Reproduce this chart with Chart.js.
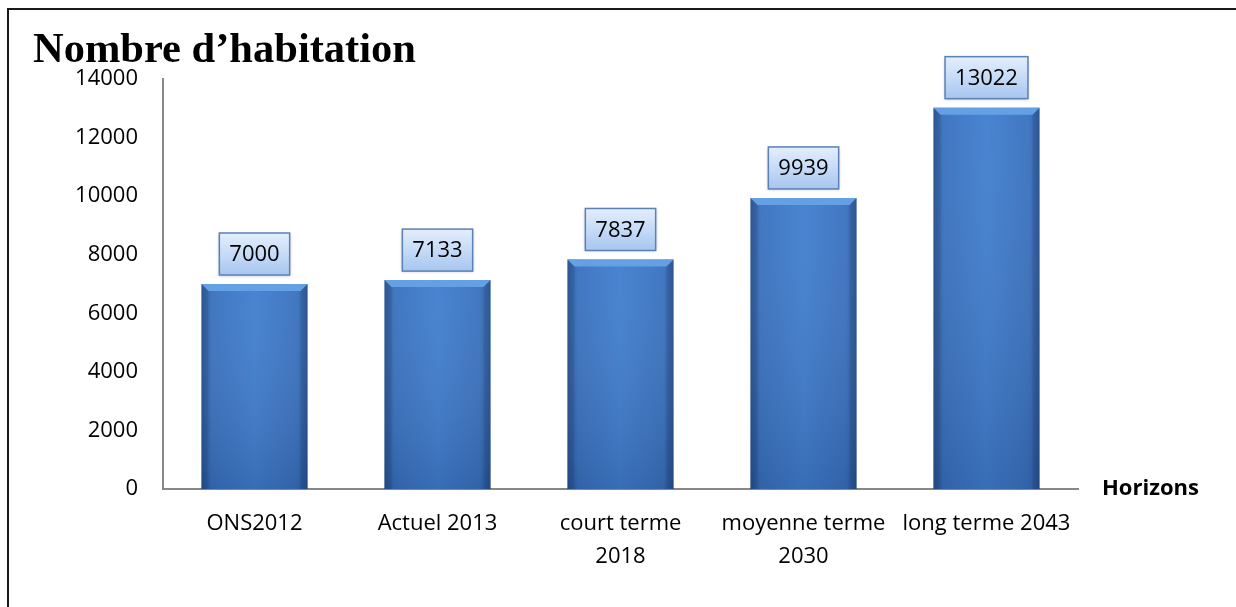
<!DOCTYPE html>
<html>
<head>
<meta charset="utf-8">
<script src="https://cdn.jsdelivr.net/npm/chart.js@4"></script>
<style>
  html, body { margin: 0; padding: 0; background: #fff; overflow: hidden; }
  canvas { display: block; }
</style>
</head>
<body>
<canvas id="chart" width="1236" height="607"></canvas>
<script>
const categories = ['ONS2012', 'Actuel 2013', ['court terme', '2018'], ['moyenne terme', '2030'], 'long terme 2043'];
const habitations = [7000, 7133, 7837, 9939, 13022];
const yMin = 0;
const yMax = 14000;
const yStep = 2000;
const chartTitle = 'Nombre d\u2019habitation';
const axisTitle = 'Horizons';
const barShare = 0.58;

const ctx = document.getElementById('chart').getContext('2d');

// horizontal shading for each bar: darker sides, lighter middle
function barFill(context) {
    const chart = context.chart;
    const xs = chart.scales.x;
    if (!xs) return '#3f78c4';
    const cx = xs.getPixelForValue(context.dataIndex);
    const half = (xs.width / categories.length) * barShare / 2;
    if (!Number.isFinite(cx) || !Number.isFinite(half) || half <= 0) return '#3f78c4';
    const g = chart.ctx.createLinearGradient(cx - half, 0, cx + half, 0);
    g.addColorStop(0, '#2a5796');
    g.addColorStop(0.1, '#3a72bf');
    g.addColorStop(0.5, '#417fcf');
    g.addColorStop(0.9, '#3a72bf');
    g.addColorStop(1, '#2a5796');
    return g;
}

const frame = {
    id: 'frame',
    beforeDraw(chart) {
        const c = chart.ctx;
        c.save();
        c.fillStyle = '#fff';
        c.fillRect(0, 0, chart.width, chart.height);
        c.strokeStyle = '#1a1a1a';
        c.lineWidth = 2;
        c.strokeRect(8, 9, chart.width + 20, chart.height + 20);
        c.restore();
    },
    afterDraw(chart) {
        const c = chart.ctx;
        const area = chart.chartArea;
        c.save();
        c.fillStyle = '#000';
        c.textBaseline = 'alphabetic';
        c.textAlign = 'left';
        c.font = 'bold 42.5px "Liberation Serif", "Times New Roman", serif';
        c.fillText(chartTitle, 33, 62);
        c.font = 'bold 22px "Open Sans", sans-serif';
        c.textBaseline = 'middle';
        c.fillText(axisTitle, area.right + 24, area.bottom);
        c.restore();
    }
};

// top bevel, bottom shade and value boxes above each bar
const barDecor = {
    id: 'barDecor',
    afterDatasetsDraw(chart) {
        const c = chart.ctx;
        const meta = chart.getDatasetMeta(0);
        const base = chart.scales.y.getPixelForValue(0);
        meta.data.forEach((bar, i) => {
            const half = bar.width / 2;
            const left = bar.x - half;
            const right = bar.x + half;
            const top = bar.y;

            c.save();
            // darker toward the base
            const v = c.createLinearGradient(0, top, 0, base);
            v.addColorStop(0, 'rgba(255,255,255,0.04)');
            v.addColorStop(1, 'rgba(0,10,40,0.15)');
            c.fillStyle = v;
            c.fillRect(left, top, bar.width, base - top);

            // bevelled top edge
            const bevel = 7;
            c.beginPath();
            c.moveTo(left, top);
            c.lineTo(right, top);
            c.lineTo(right - bevel, top + bevel);
            c.lineTo(left + bevel, top + bevel);
            c.closePath();
            c.fillStyle = '#64a0e4';
            c.fill();
            c.beginPath();
            c.moveTo(left, top);
            c.lineTo(left + bevel, top + bevel);
            c.lineTo(left + bevel, base);
            c.lineTo(left, base);
            c.closePath();
            c.fillStyle = 'rgba(20,50,100,0.16)';
            c.fill();
            c.beginPath();
            c.moveTo(right, top);
            c.lineTo(right - bevel, top + bevel);
            c.lineTo(right - bevel, base);
            c.lineTo(right, base);
            c.closePath();
            c.fill();
            c.restore();

            // value label box
            const text = String(habitations[i]);
            c.save();
            c.font = '22px "Open Sans", sans-serif';
            const w = c.measureText(text).width + 20;
            const h = 42;
            const bx = bar.x - w / 2;
            const by = top - 9 - h;
            c.shadowColor = 'rgba(0,0,0,0.25)';
            c.shadowBlur = 3;
            c.shadowOffsetY = 1;
            const g = c.createLinearGradient(0, by, 0, by + h);
            g.addColorStop(0, '#e4eefc');
            g.addColorStop(0.5, '#c6dbf7');
            g.addColorStop(1, '#a7c5ef');
            c.fillStyle = g;
            c.fillRect(bx, by, w, h);
            c.shadowColor = 'transparent';
            c.strokeStyle = '#5b81b6';
            c.lineWidth = 1.5;
            c.strokeRect(bx, by, w, h);
            c.fillStyle = '#000';
            c.textAlign = 'center';
            c.textBaseline = 'middle';
            c.fillText(text, bar.x, by + h / 2 + 1);
            c.restore();
        });
    }
};

new Chart(ctx, {
    type: 'bar',
    data: {
        labels: categories,
        datasets: [{
            label: chartTitle,
            data: habitations,
            backgroundColor: barFill,
            borderWidth: 0,
            barPercentage: barShare,
            categoryPercentage: 1
        }]
    },
    options: {
        responsive: false,
        animation: false,
        layout: {
            padding: { left: 0, top: 79, right: 158, bottom: 0 }
        },
        plugins: {
            legend: { display: false },
            title: { display: false },
            tooltip: { enabled: false }
        },
        scales: {
            x: {
                afterFit(scale) { scale.height = 118; },
                grid: { display: false, drawTicks: false },
                border: { display: true, color: '#878787', width: 2 },
                ticks: {
                    autoSkip: false,
                    maxRotation: 0,
                    minRotation: 0,
                    padding: 18,
                    color: '#000',
                    font: { family: '"Open Sans", sans-serif', size: 22, lineHeight: 1.5 }
                }
            },
            y: {
                min: yMin,
                max: yMax,
                afterFit(scale) { scale.width = 163; },
                grid: { display: false, drawTicks: false },
                border: { display: true, color: '#878787', width: 2 },
                ticks: {
                    stepSize: yStep,
                    padding: 25,
                    color: '#000',
                    font: { family: '"Open Sans", sans-serif', size: 22 },
                    callback: value => String(value)
                }
            }
        }
    },
    plugins: [frame, barDecor]
});
</script>
</body>
</html>
